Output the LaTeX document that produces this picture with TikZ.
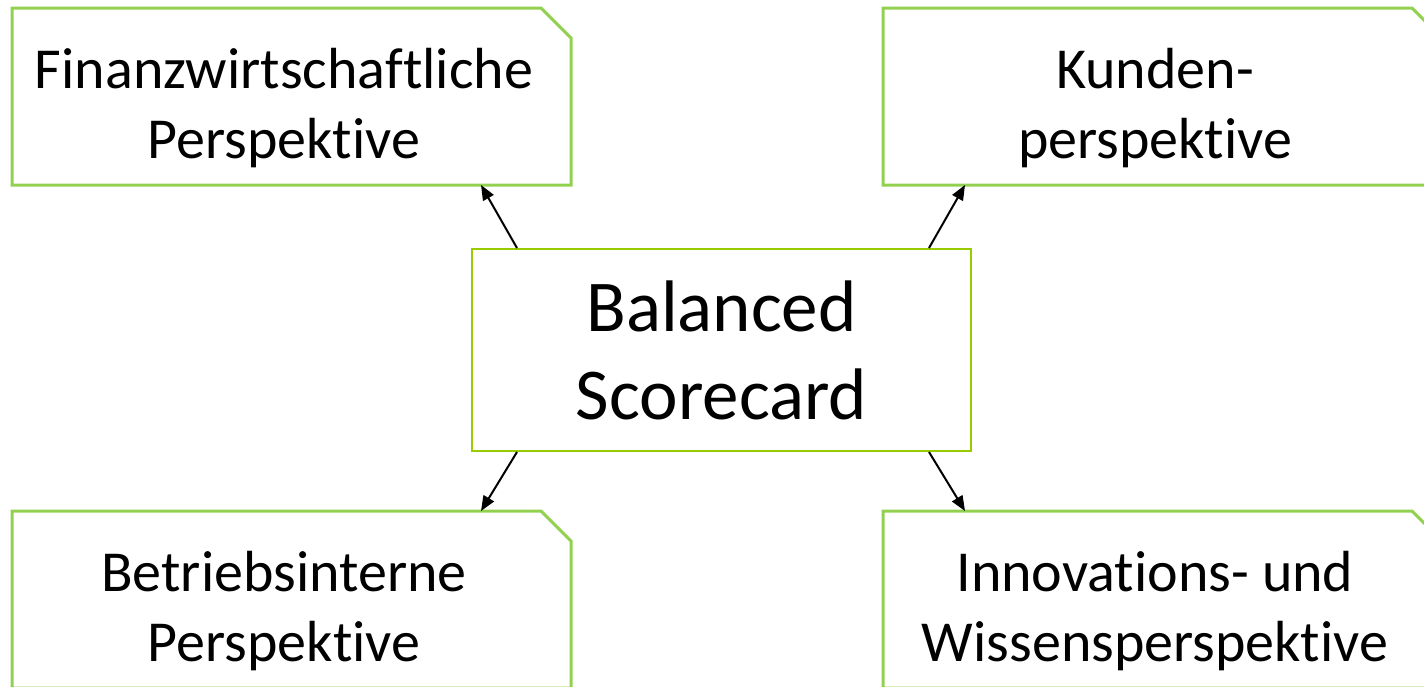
\documentclass[tikz,border=0pt]{standalone}
\usepackage{fontspec}
\setmainfont{Carlito}[Ligatures=NoCommon]
\usetikzlibrary{calc,arrows.meta}

\definecolor{snipgreen}{HTML}{92D050}
\definecolor{cardgreen}{HTML}{99CC00}

\tikzset{
  persp/.style={align=center, inner sep=0pt, font=\fontsize{58}{70}\selectfont},
  snipline/.style={draw=snipgreen, line width=3pt, line join=miter},
  card/.style={draw=cardgreen, line width=2pt, minimum width=499pt, minimum height=202pt,
    inner sep=0pt, align=center, font=\fontsize{73}{88}\selectfont},
  link/.style={line width=2pt, -{Triangle[length=15pt,width=12pt]}}
}
% outline with the cut corner, drawn round a text node
\newcommand{\snipbox}[1]{%
  \draw[snipline] ($(#1)+(-272,77)$) -- ($(#1)+(-272,-100)$) -- ($(#1)+(257,-100)$)
    -- ($(#1)+(287,-70)$) -- ($(#1)+(287,77)$) -- cycle;}

\begin{document}
\begin{tikzpicture}[x=1pt,y=-1pt]
  \useasboundingbox (0,0) rectangle (1424,686);
  \clip (0,0) rectangle (1424,686);
  \node[card] (bsc) at (721.5,350) {Balanced\\Scorecard};
  \node[persp] (fin) at (284,108) {Finanzwirtschaftliche\\Perspektive};
  \node[persp] (kund) at (1155,108) {Kunden-\\perspektive};
  \node[persp] (intern) at (284,611) {Betriebsinterne\\Perspektive};
  \node[persp] (innov) at (1155,611) {Innovations- und\\Wissensperspektive};
  \snipbox{fin}
  \snipbox{kund}
  \snipbox{intern}
  \snipbox{innov}
  \draw[link] ([xshift=46pt]bsc.north west) -- ($(fin)+(197,77)$);
  \draw[link] ([xshift=-43pt]bsc.north east) -- ($(kund)+(-190,77)$);
  \draw[link] ([xshift=46pt]bsc.south west) -- ($(intern)+(197,-100)$);
  \draw[link] ([xshift=-43pt]bsc.south east) -- ($(innov)+(-190,-100)$);
\end{tikzpicture}
\end{document}
